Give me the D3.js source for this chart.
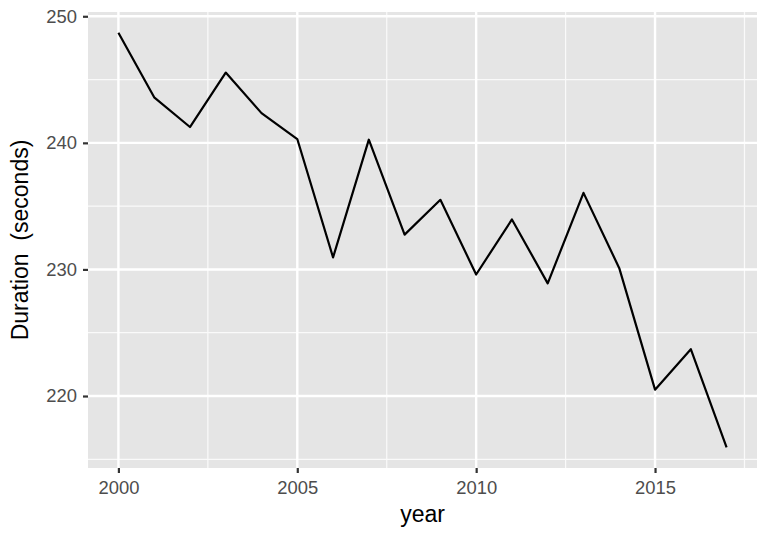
<!DOCTYPE html>
<html><head><meta charset="utf-8">
<script src="https://cdn.jsdelivr.net/npm/d3@7"></script>
<style>body{margin:0;background:#fff}svg{display:block}</style>
</head><body>
<svg id="chart" width="768" height="538"></svg>
<script>
const years = [2000,2001,2002,2003,2004,2005,2006,2007,2008,2009,2010,2011,2012,2013,2014,2015,2016,2017];
const durations = [248.7,243.6,241.25,245.55,242.35,240.3,230.95,240.25,232.75,235.5,229.6,233.95,228.9,236.05,230.1,220.5,223.7,215.95];
const xTicks = [2000,2005,2010,2015];
const xMinor = [2002.5,2007.5,2012.5,2017.5];
const yTicks = [220,230,240,250];
const yMinor = [215,225,235,245];
const xTitle = "year";
const yTitle = "Duration\u00a0\u00a0(seconds)";

const svg = d3.select("#chart");
const m = {left:88, right:11, top:12, bottom:70};
const W = 768, H = 538;
const pw = W - m.left - m.right, ph = H - m.top - m.bottom;

const xr = d3.extent(years), yr = d3.extent(durations);
const xe = (xr[1]-xr[0])*0.05, ye = (yr[1]-yr[0])*0.05;
const x = d3.scaleLinear().domain([xr[0]-xe, xr[1]+xe]).range([m.left, m.left+pw]);
const y = d3.scaleLinear().domain([yr[0]-ye, yr[1]+ye]).range([m.top+ph, m.top]);

svg.append("rect").attr("x", m.left).attr("y", m.top).attr("width", pw).attr("height", ph).attr("fill", "#E5E5E5");

const g = svg.append("g");
g.selectAll(".ymin").data(yMinor).join("line")
  .attr("x1", m.left).attr("x2", m.left+pw).attr("y1", d=>y(d)).attr("y2", d=>y(d))
  .attr("stroke", "#FAFAFA").attr("stroke-width", 1.2);
g.selectAll(".xmin").data(xMinor).join("line")
  .attr("y1", m.top).attr("y2", m.top+ph).attr("x1", d=>x(d)).attr("x2", d=>x(d))
  .attr("stroke", "#FAFAFA").attr("stroke-width", 1.2);
g.selectAll(".ymaj").data(yTicks).join("line")
  .attr("x1", m.left).attr("x2", m.left+pw).attr("y1", d=>y(d)).attr("y2", d=>y(d))
  .attr("stroke", "#fff").attr("stroke-width", 2.4);
g.selectAll(".xmaj").data(xTicks).join("line")
  .attr("y1", m.top).attr("y2", m.top+ph).attr("x1", d=>x(d)).attr("x2", d=>x(d))
  .attr("stroke", "#fff").attr("stroke-width", 2.4);

const line = d3.line().x((d,i)=>x(years[i])).y(d=>y(d));
svg.append("path").datum(durations).attr("d", line)
  .attr("fill", "none").attr("stroke", "#000").attr("stroke-width", 2.2).attr("stroke-linejoin", "round");

const font = "'Liberation Sans', Arial, Helvetica, sans-serif";

const xAxis = d3.axisBottom(x).tickValues(xTicks).tickFormat(d3.format("d")).tickSize(5).tickPadding(8);
const xa = svg.append("g").attr("transform", `translate(0,${m.top+ph})`).call(xAxis);
const yAxis = d3.axisLeft(y).tickValues(yTicks).tickFormat(d3.format("d")).tickSize(5).tickPadding(6);
const ya = svg.append("g").attr("transform", `translate(${m.left},0)`).call(yAxis);
[xa, ya].forEach(a => {
  a.attr("font-size", null).attr("font-family", null);
  a.select(".domain").remove();
  a.selectAll(".tick line").attr("stroke", "#333").attr("stroke-width", 2.2);
  a.selectAll(".tick text").attr("fill", "#4D4D4D").style("font-family", font).style("font-size", "18.4px");
});

svg.append("text").attr("x", m.left + pw/2).attr("y", 522).attr("text-anchor", "middle")
  .style("font-family", font).style("font-size", "23px").attr("fill", "#000").text(xTitle);
svg.append("text").attr("transform", `translate(28,${m.top+ph/2}) rotate(-90)`).attr("text-anchor", "middle")
  .style("font-family", font).style("font-size", "23px").attr("fill", "#000").text(yTitle);
</script>
</body></html>
